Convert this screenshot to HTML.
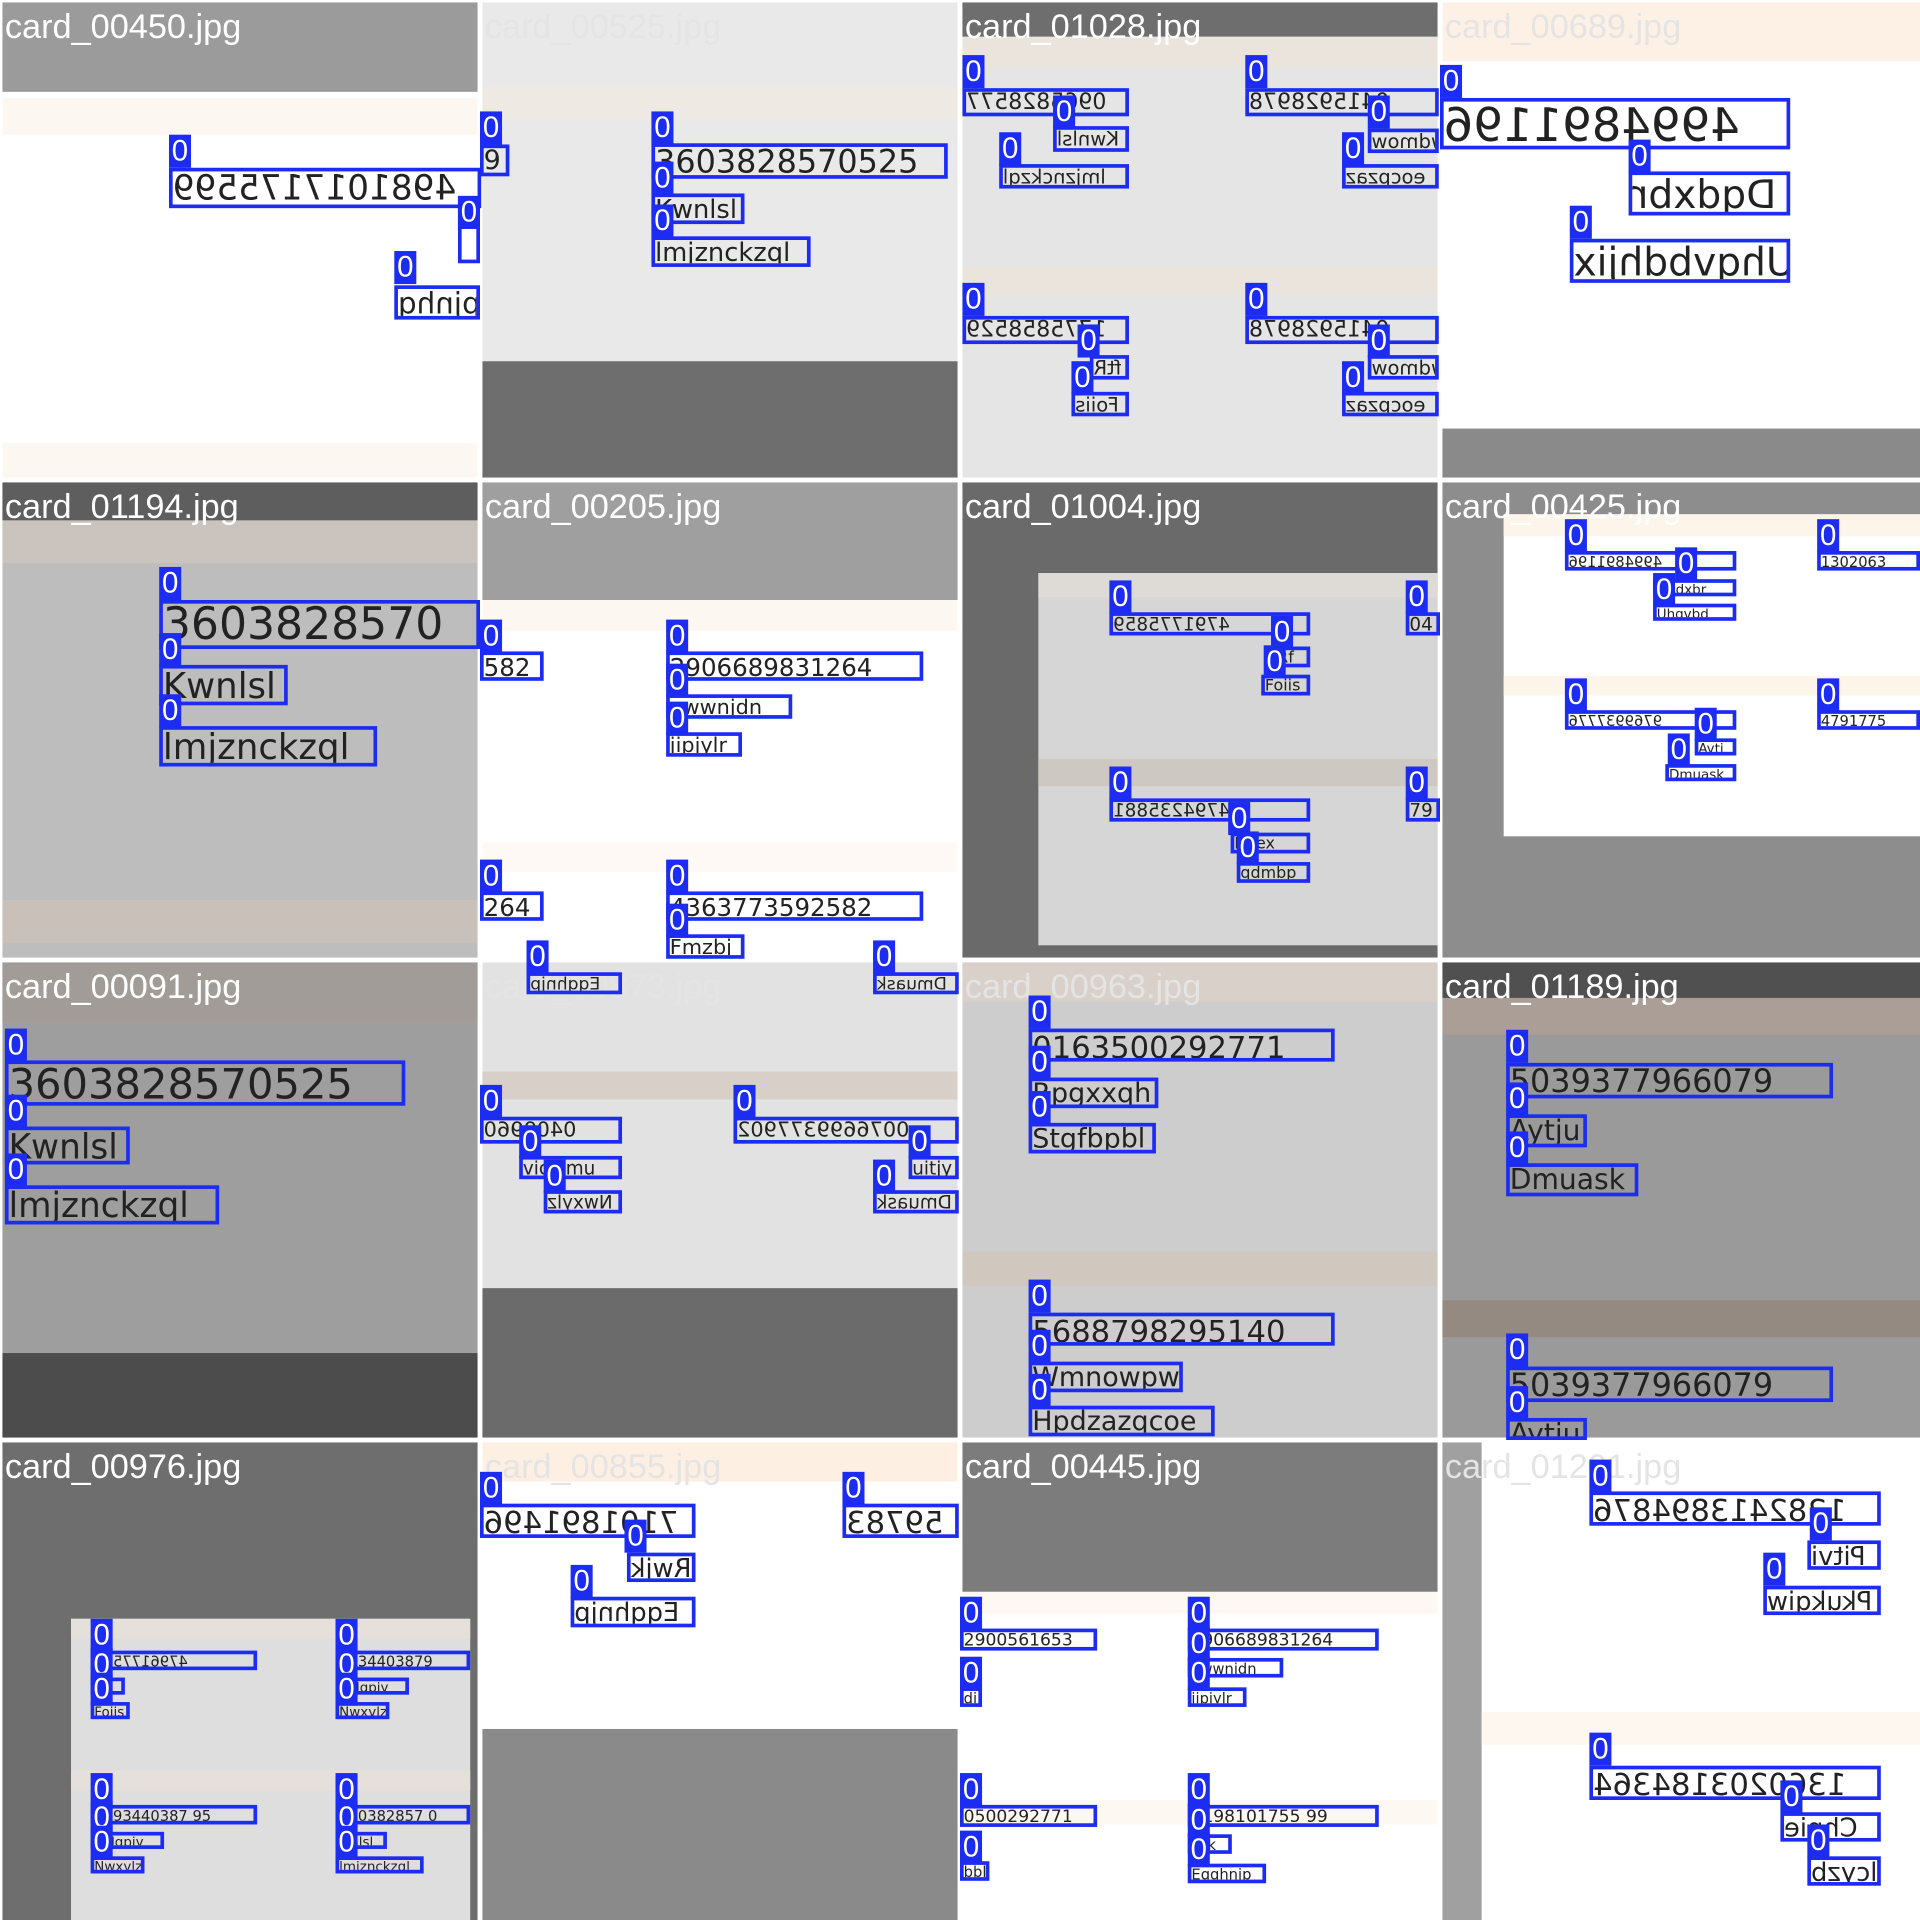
<!DOCTYPE html>
<html><head><meta charset="utf-8"><style>
html,body{margin:0;padding:0;background:#fff;}
#w{position:absolute;left:0;top:0;width:1568px;height:1568px;transform:scale(1.22449);transform-origin:0 0;overflow:hidden;background:#fff;font-family:"Liberation Sans",sans-serif;}
.r{position:absolute;}
.ti{position:absolute;color:#fff;font-size:28px;line-height:32px;white-space:nowrap;}
.tl{color:#e4e4e4;}
.b{position:absolute;border:3px solid #1c2cf2;box-sizing:border-box;color:#222;white-space:nowrap;overflow:hidden;line-height:1;font-family:"DejaVu Sans",sans-serif;}
.l{position:absolute;width:18px;height:27px;background:#1c2cf2;color:#fff;font-size:24px;line-height:27px;text-align:center;}
.m{display:inline-block;transform:scaleX(-1);}
</style></head><body><div id="w">
<!-- Tile 1 -->
<div class="r" style="left:2px;top:2px;width:388px;height:388px;background:#fff"></div>
<div class="r" style="left:2px;top:2px;width:388px;height:73px;background:#9b9b9b"></div>
<div class="r" style="left:2px;top:80px;width:388px;height:30px;background:#fdf7f1"></div>
<div class="r" style="left:2px;top:362px;width:388px;height:28px;background:#fdf7f1"></div>
<div class="ti" style="left:4px;top:6px">card_00450.jpg</div>
<div class="b" style="left:138px;top:137px;width:255px;height:33px;font-size:28px"><span class="m">4981017175599</span></div><div class="l" style="left:138px;top:110px">0</div>
<div class="b" style="left:374px;top:160px;width:18px;height:55px;font-size:24px">k</div><div class="l" style="left:374px;top:160px">0</div>
<div class="b" style="left:322px;top:233px;width:70px;height:28px;font-size:24px"><span class="m">pjnhq</span></div><div class="l" style="left:322px;top:205px">0</div>
<!-- Tile 2 -->
<div class="r" style="left:394px;top:2px;width:388px;height:293px;background:#e9e9e9"></div>
<div class="r" style="left:394px;top:70px;width:388px;height:28px;background:#efe9e4"></div>
<div class="r" style="left:394px;top:295px;width:388px;height:95px;background:#6e6e6e"></div>
<div class="ti tl" style="left:396px;top:6px">card_00525.jpg</div>
<div class="b" style="left:392px;top:118px;width:24px;height:26px;font-size:22px">9</div><div class="l" style="left:392px;top:91px">0</div>
<div class="b" style="left:532px;top:117px;width:242px;height:29px;font-size:26px">3603828570525</div><div class="l" style="left:532px;top:91px">0</div>
<div class="b" style="left:532px;top:158px;width:76px;height:25px;font-size:21px">Kwnlsl</div><div class="l" style="left:532px;top:132px">0</div>
<div class="b" style="left:532px;top:193px;width:130px;height:25px;font-size:21px">lmjznckzql</div><div class="l" style="left:532px;top:167px">0</div>
<!-- Tile 3 -->
<div class="r" style="left:786px;top:2px;width:388px;height:388px;background:#e5e5e5"></div>
<div class="r" style="left:786px;top:2px;width:388px;height:28px;background:#6e6e6e"></div>
<div class="r" style="left:786px;top:30px;width:388px;height:25px;background:#ebe4dc"></div>
<div class="r" style="left:786px;top:218px;width:388px;height:22px;background:#ebe4dc"></div>
<div class="ti" style="left:788px;top:6px">card_01028.jpg</div>
<div class="b" style="left:786px;top:72px;width:136px;height:23px;font-size:18px"><span class="m">0965828577</span></div><div class="l" style="left:786px;top:45px">0</div>
<div class="b" style="left:860px;top:103px;width:62px;height:21px;font-size:16px"><span class="m">Kwnlsl</span></div><div class="l" style="left:860px;top:78px">0</div>
<div class="b" style="left:816px;top:134px;width:106px;height:20px;font-size:16px"><span class="m">lmjznckzql</span></div><div class="l" style="left:816px;top:108px">0</div>
<div class="b" style="left:1017px;top:72px;width:158px;height:23px;font-size:18px"><span class="m">0415928978</span></div><div class="l" style="left:1017px;top:45px">0</div>
<div class="b" style="left:1117px;top:105px;width:58px;height:20px;font-size:16px"><span class="m">wdmow</span></div><div class="l" style="left:1117px;top:78px">0</div>
<div class="b" style="left:1096px;top:134px;width:79px;height:20px;font-size:16px"><span class="m">eocpzaz</span></div><div class="l" style="left:1096px;top:108px">0</div>
<div class="b" style="left:786px;top:258px;width:136px;height:23px;font-size:18px"><span class="m">1775858529</span></div><div class="l" style="left:786px;top:231px">0</div>
<div class="b" style="left:890px;top:290px;width:32px;height:20px;font-size:16px"><span class="m">ftR</span></div><div class="l" style="left:880px;top:265px">0</div>
<div class="b" style="left:875px;top:320px;width:47px;height:20px;font-size:16px"><span class="m">Foiis</span></div><div class="l" style="left:875px;top:295px">0</div>
<div class="b" style="left:1017px;top:258px;width:158px;height:23px;font-size:18px"><span class="m">0415928978</span></div><div class="l" style="left:1017px;top:231px">0</div>
<div class="b" style="left:1117px;top:290px;width:58px;height:20px;font-size:16px"><span class="m">wdmow</span></div><div class="l" style="left:1117px;top:265px">0</div>
<div class="b" style="left:1096px;top:320px;width:79px;height:20px;font-size:16px"><span class="m">eocpzaz</span></div><div class="l" style="left:1096px;top:295px">0</div>
<!-- Tile 4 -->
<div class="r" style="left:1178px;top:2px;width:390px;height:388px;background:#fff"></div>
<div class="r" style="left:1178px;top:2px;width:390px;height:48px;background:#fdf1e6"></div>
<div class="r" style="left:1178px;top:350px;width:390px;height:40px;background:#8a8a8a"></div>
<div class="ti tl" style="left:1180px;top:6px">card_00689.jpg</div>
<div class="b" style="left:1176px;top:80px;width:286px;height:42px;font-size:38px"><span class="m">4994891196</span></div><div class="l" style="left:1176px;top:53px">0</div>
<div class="b" style="left:1330px;top:140px;width:132px;height:36px;font-size:32px"><span class="m">Dqdxbr</span></div><div class="l" style="left:1330px;top:114px">0</div>
<div class="b" style="left:1282px;top:195px;width:180px;height:36px;font-size:32px"><span class="m">Uhqvbdhjix</span></div><div class="l" style="left:1282px;top:168px">0</div>
<!-- Tile 5 -->
<div class="r" style="left:2px;top:394px;width:388px;height:388px;background:#bdbdbd"></div>
<div class="r" style="left:2px;top:394px;width:388px;height:31px;background:#5e5e5e"></div>
<div class="r" style="left:2px;top:425px;width:388px;height:35px;background:#cbc4be"></div>
<div class="r" style="left:2px;top:735px;width:388px;height:35px;background:#c9c0b9"></div>
<div class="ti" style="left:4px;top:398px">card_01194.jpg</div>
<div class="b" style="left:130px;top:490px;width:262px;height:40px;font-size:36px">3603828570</div><div class="l" style="left:130px;top:463px">0</div>
<div class="b" style="left:130px;top:543px;width:105px;height:33px;font-size:29px">Kwnlsl</div><div class="l" style="left:130px;top:517px">0</div>
<div class="b" style="left:130px;top:593px;width:178px;height:33px;font-size:29px">lmjznckzql</div><div class="l" style="left:130px;top:567px">0</div>
<!-- Tile 6 -->
<div class="r" style="left:394px;top:394px;width:388px;height:388px;background:#fff"></div>
<div class="r" style="left:394px;top:394px;width:388px;height:96px;background:#9f9f9f"></div>
<div class="r" style="left:394px;top:490px;width:388px;height:25px;background:#fdf7f1"></div>
<div class="r" style="left:394px;top:688px;width:388px;height:24px;background:#fef9f4"></div>
<div class="ti" style="left:396px;top:398px">card_00205.jpg</div>
<div class="b" style="left:392px;top:532px;width:52px;height:24px;font-size:20px">582</div><div class="l" style="left:392px;top:506px">0</div>
<div class="b" style="left:544px;top:532px;width:210px;height:24px;font-size:20px">2906689831264</div><div class="l" style="left:544px;top:506px">0</div>
<div class="b" style="left:544px;top:567px;width:103px;height:20px;font-size:17px">ewwnjdn</div><div class="l" style="left:544px;top:542px">0</div>
<div class="b" style="left:544px;top:598px;width:62px;height:20px;font-size:17px">jipjylr</div><div class="l" style="left:544px;top:573px">0</div>
<div class="b" style="left:392px;top:728px;width:52px;height:24px;font-size:20px">264</div><div class="l" style="left:392px;top:702px">0</div>
<div class="b" style="left:544px;top:728px;width:210px;height:24px;font-size:20px">4363773592582</div><div class="l" style="left:544px;top:702px">0</div>
<div class="b" style="left:544px;top:763px;width:64px;height:20px;font-size:17px">Fmzbj</div><div class="l" style="left:544px;top:738px">0</div>
<!-- Tile 7 -->
<div class="r" style="left:786px;top:394px;width:388px;height:388px;background:#6a6a6a"></div>
<div class="r" style="left:848px;top:468px;width:326px;height:304px;background:#d6d6d6"></div>
<div class="r" style="left:848px;top:468px;width:326px;height:20px;background:#dedad6"></div>
<div class="r" style="left:848px;top:620px;width:326px;height:22px;background:#cec8c2"></div>
<div class="ti" style="left:788px;top:398px">card_01004.jpg</div>
<div class="b" style="left:906px;top:500px;width:164px;height:19px;font-size:15px"><span class="m">4791775859</span></div><div class="l" style="left:906px;top:474px">0</div>
<div class="b" style="left:1040px;top:528px;width:30px;height:17px;font-size:13px">Rf</div><div class="l" style="left:1038px;top:503px">0</div>
<div class="b" style="left:1030px;top:551px;width:40px;height:17px;font-size:13px">Foiis</div><div class="l" style="left:1032px;top:527px">0</div>
<div class="b" style="left:1148px;top:500px;width:28px;height:19px;font-size:15px">04</div><div class="l" style="left:1148px;top:474px">0</div>
<div class="b" style="left:906px;top:652px;width:164px;height:19px;font-size:15px"><span class="m">4794235881</span></div><div class="l" style="left:906px;top:626px">0</div>
<div class="b" style="left:1005px;top:680px;width:65px;height:17px;font-size:13px">Haex</div><div class="l" style="left:1003px;top:655px">0</div>
<div class="b" style="left:1010px;top:704px;width:60px;height:17px;font-size:13px">qdmbp</div><div class="l" style="left:1010px;top:679px">0</div>
<div class="b" style="left:1148px;top:652px;width:28px;height:19px;font-size:15px">79</div><div class="l" style="left:1148px;top:626px">0</div>
<!-- Tile 8 -->
<div class="r" style="left:1178px;top:394px;width:390px;height:388px;background:#8d8d8d"></div>
<div class="r" style="left:1228px;top:420px;width:340px;height:263px;background:#fff"></div>
<div class="r" style="left:1228px;top:420px;width:340px;height:18px;background:#fdf4ea"></div>
<div class="r" style="left:1228px;top:552px;width:340px;height:16px;background:#fdf4ea"></div>
<div class="ti" style="left:1180px;top:398px">card_00425.jpg</div>
<div class="b" style="left:1278px;top:450px;width:140px;height:16px;font-size:12px"><span class="m">4994891196</span></div><div class="l" style="left:1278px;top:424px">0</div>
<div class="b" style="left:1350px;top:473px;width:68px;height:14px;font-size:11px">Dqdxbr</div><div class="l" style="left:1368px;top:447px">0</div>
<div class="b" style="left:1350px;top:493px;width:68px;height:14px;font-size:11px">Uhqvbd</div><div class="l" style="left:1350px;top:468px">0</div>
<div class="b" style="left:1484px;top:450px;width:84px;height:16px;font-size:12px">1302063</div><div class="l" style="left:1484px;top:424px">0</div>
<div class="b" style="left:1278px;top:580px;width:140px;height:16px;font-size:12px"><span class="m">9769937776</span></div><div class="l" style="left:1278px;top:554px">0</div>
<div class="b" style="left:1384px;top:603px;width:34px;height:14px;font-size:11px">Aytj</div><div class="l" style="left:1384px;top:578px">0</div>
<div class="b" style="left:1360px;top:624px;width:58px;height:14px;font-size:11px">Dmuask</div><div class="l" style="left:1362px;top:599px">0</div>
<div class="b" style="left:1484px;top:580px;width:84px;height:16px;font-size:12px">4791775</div><div class="l" style="left:1484px;top:554px">0</div>
<!-- Tile 9 -->
<div class="r" style="left:2px;top:786px;width:388px;height:388px;background:#9e9e9e"></div>
<div class="r" style="left:2px;top:786px;width:388px;height:49px;background:#a19c98"></div>
<div class="r" style="left:2px;top:1105px;width:388px;height:69px;background:#4c4c4c"></div>
<div class="ti" style="left:4px;top:790px">card_00091.jpg</div>
<div class="b" style="left:4px;top:866px;width:327px;height:37px;font-size:34px">3603828570525</div><div class="l" style="left:4px;top:840px">0</div>
<div class="b" style="left:4px;top:920px;width:102px;height:31px;font-size:28px">Kwnlsl</div><div class="l" style="left:4px;top:894px">0</div>
<div class="b" style="left:4px;top:968px;width:175px;height:32px;font-size:28px">lmjznckzql</div><div class="l" style="left:4px;top:942px">0</div>
<!-- Tile 10 -->
<div class="r" style="left:394px;top:786px;width:388px;height:388px;background:#e2e2e2"></div>
<div class="r" style="left:394px;top:875px;width:388px;height:23px;background:#d8d0c8"></div>
<div class="r" style="left:394px;top:1052px;width:388px;height:122px;background:#6b6b6b"></div>
<div class="ti tl" style="left:396px;top:790px">card_00873.jpg</div>
<div class="b" style="left:430px;top:794px;width:78px;height:18px;font-size:14px"><span class="m">Eqqhnjp</span></div><div class="l" style="left:430px;top:768px">0</div>
<div class="b" style="left:713px;top:794px;width:70px;height:18px;font-size:14px"><span class="m">Dmuask</span></div><div class="l" style="left:713px;top:768px">0</div>
<div class="b" style="left:392px;top:912px;width:116px;height:22px;font-size:17px"><span class="m">0409960</span></div><div class="l" style="left:392px;top:886px">0</div>
<div class="b" style="left:424px;top:944px;width:84px;height:19px;font-size:15px">vicldmu</div><div class="l" style="left:424px;top:919px">0</div>
<div class="b" style="left:444px;top:972px;width:64px;height:19px;font-size:15px"><span class="m">Nwxylz</span></div><div class="l" style="left:444px;top:947px">0</div>
<div class="b" style="left:599px;top:912px;width:184px;height:22px;font-size:17px"><span class="m">0076699377902</span></div><div class="l" style="left:599px;top:886px">0</div>
<div class="b" style="left:742px;top:944px;width:41px;height:19px;font-size:15px">uitjy</div><div class="l" style="left:742px;top:919px">0</div>
<div class="b" style="left:713px;top:972px;width:70px;height:19px;font-size:15px"><span class="m">Dmuask</span></div><div class="l" style="left:713px;top:947px">0</div>
<!-- Tile 11 -->
<div class="r" style="left:786px;top:786px;width:388px;height:388px;background:#cdcdcd"></div>
<div class="r" style="left:786px;top:786px;width:388px;height:32px;background:#d8d0c9"></div>
<div class="r" style="left:786px;top:1022px;width:388px;height:28px;background:#d0c7bf"></div>
<div class="ti tl" style="left:788px;top:790px">card_00963.jpg</div>
<div class="b" style="left:840px;top:840px;width:250px;height:27px;font-size:25px">0163500292771</div><div class="l" style="left:840px;top:813px">0</div>
<div class="b" style="left:840px;top:880px;width:106px;height:25px;font-size:22px">Rpgxxqh</div><div class="l" style="left:840px;top:854px">0</div>
<div class="b" style="left:840px;top:917px;width:104px;height:25px;font-size:22px">Stgfbpbl</div><div class="l" style="left:840px;top:891px">0</div>
<div class="b" style="left:840px;top:1072px;width:250px;height:27px;font-size:25px">5688798295140</div><div class="l" style="left:840px;top:1045px">0</div>
<div class="b" style="left:840px;top:1112px;width:126px;height:25px;font-size:22px">Wmnowpw</div><div class="l" style="left:840px;top:1086px">0</div>
<div class="b" style="left:840px;top:1148px;width:152px;height:25px;font-size:22px">Hpdzazqcoe</div><div class="l" style="left:840px;top:1122px">0</div>
<!-- Tile 12 -->
<div class="r" style="left:1178px;top:786px;width:390px;height:388px;background:#9a9a9a"></div>
<div class="r" style="left:1178px;top:786px;width:390px;height:29px;background:#505050"></div>
<div class="r" style="left:1178px;top:815px;width:390px;height:30px;background:#ab9e96"></div>
<div class="r" style="left:1178px;top:1062px;width:390px;height:30px;background:#958a82"></div>
<div class="ti" style="left:1180px;top:790px">card_01189.jpg</div>
<div class="b" style="left:1230px;top:868px;width:267px;height:29px;font-size:26px">5039377966079</div><div class="l" style="left:1230px;top:841px">0</div>
<div class="b" style="left:1230px;top:910px;width:66px;height:27px;font-size:23px">Aytju</div><div class="l" style="left:1230px;top:884px">0</div>
<div class="b" style="left:1230px;top:950px;width:108px;height:27px;font-size:23px">Dmuask</div><div class="l" style="left:1230px;top:924px">0</div>
<div class="b" style="left:1230px;top:1116px;width:267px;height:29px;font-size:26px">5039377966079</div><div class="l" style="left:1230px;top:1089px">0</div>
<div class="b" style="left:1230px;top:1158px;width:66px;height:18px;font-size:23px">Aytju</div><div class="l" style="left:1230px;top:1132px">0</div>
<!-- Tile 13 -->
<div class="r" style="left:2px;top:1178px;width:388px;height:390px;background:#6e6e6e"></div>
<div class="r" style="left:58px;top:1322px;width:326px;height:246px;background:#dedede"></div>
<div class="r" style="left:58px;top:1322px;width:326px;height:16px;background:#e6e0da"></div>
<div class="r" style="left:58px;top:1446px;width:326px;height:16px;background:#e6e0da"></div>
<div class="ti" style="left:4px;top:1182px">card_00976.jpg</div>
<div class="b" style="left:74px;top:1348px;width:136px;height:16px;font-size:12px"><span class="m">4796177585</span></div><div class="l" style="left:74px;top:1322px">0</div>
<div class="b" style="left:74px;top:1370px;width:28px;height:14px;font-size:11px">Rf</div><div class="l" style="left:74px;top:1346px">0</div>
<div class="b" style="left:74px;top:1390px;width:32px;height:14px;font-size:11px">Foiis</div><div class="l" style="left:74px;top:1366px">0</div>
<div class="b" style="left:274px;top:1348px;width:110px;height:16px;font-size:12px">0934403879</div><div class="l" style="left:274px;top:1322px">0</div>
<div class="b" style="left:274px;top:1370px;width:60px;height:14px;font-size:11px">ohlqpiy</div><div class="l" style="left:274px;top:1346px">0</div>
<div class="b" style="left:274px;top:1390px;width:44px;height:14px;font-size:11px">Nwxylz</div><div class="l" style="left:274px;top:1366px">0</div>
<div class="b" style="left:74px;top:1474px;width:136px;height:16px;font-size:12px">5093440387 95</div><div class="l" style="left:74px;top:1448px">0</div>
<div class="b" style="left:74px;top:1496px;width:60px;height:14px;font-size:11px">ohlqpiy</div><div class="l" style="left:74px;top:1471px">0</div>
<div class="b" style="left:74px;top:1516px;width:44px;height:14px;font-size:11px">Nwxylz</div><div class="l" style="left:74px;top:1491px">0</div>
<div class="b" style="left:274px;top:1474px;width:110px;height:16px;font-size:12px">360382857 0</div><div class="l" style="left:274px;top:1448px">0</div>
<div class="b" style="left:274px;top:1496px;width:42px;height:14px;font-size:11px">wnlsl</div><div class="l" style="left:274px;top:1471px">0</div>
<div class="b" style="left:274px;top:1516px;width:72px;height:14px;font-size:11px">lmjznckzql</div><div class="l" style="left:274px;top:1491px">0</div>
<!-- Tile 14 -->
<div class="r" style="left:394px;top:1178px;width:388px;height:390px;background:#fff"></div>
<div class="r" style="left:394px;top:1178px;width:388px;height:32px;background:#fdf0e2"></div>
<div class="r" style="left:394px;top:1412px;width:388px;height:156px;background:#8a8a8a"></div>
<div class="ti tl" style="left:396px;top:1182px">card_00855.jpg</div>
<div class="b" style="left:392px;top:1228px;width:176px;height:28px;font-size:25px"><span class="m">7101891496</span></div><div class="l" style="left:392px;top:1202px">0</div>
<div class="b" style="left:688px;top:1228px;width:95px;height:28px;font-size:25px"><span class="m">59783</span></div><div class="l" style="left:688px;top:1202px">0</div>
<div class="b" style="left:512px;top:1268px;width:56px;height:24px;font-size:21px"><span class="m">Rwjk</span></div><div class="l" style="left:510px;top:1241px">0</div>
<div class="b" style="left:466px;top:1304px;width:102px;height:25px;font-size:21px"><span class="m">Eqqhnjp</span></div><div class="l" style="left:466px;top:1278px">0</div>
<!-- Tile 15 -->
<div class="r" style="left:786px;top:1178px;width:388px;height:390px;background:#fff"></div>
<div class="r" style="left:786px;top:1178px;width:388px;height:122px;background:#7c7c7c"></div>
<div class="r" style="left:786px;top:1300px;width:388px;height:18px;background:#fef8f2"></div>
<div class="r" style="left:786px;top:1470px;width:388px;height:20px;background:#fef8f2"></div>
<div class="ti" style="left:788px;top:1182px">card_00445.jpg</div>
<div class="b" style="left:784px;top:1330px;width:112px;height:18px;font-size:14px">2900561653</div><div class="l" style="left:784px;top:1304px">0</div>
<div class="b" style="left:784px;top:1378px;width:18px;height:16px;font-size:12px">di</div><div class="l" style="left:784px;top:1353px">0</div>
<div class="b" style="left:970px;top:1330px;width:156px;height:18px;font-size:14px">2906689831264</div><div class="l" style="left:970px;top:1304px">0</div>
<div class="b" style="left:970px;top:1354px;width:78px;height:16px;font-size:12px">ewwnjdn</div><div class="l" style="left:970px;top:1329px">0</div>
<div class="b" style="left:970px;top:1378px;width:48px;height:16px;font-size:12px">jipjylr</div><div class="l" style="left:970px;top:1353px">0</div>
<div class="b" style="left:784px;top:1474px;width:112px;height:18px;font-size:14px">0500292771</div><div class="l" style="left:784px;top:1448px">0</div>
<div class="b" style="left:784px;top:1520px;width:24px;height:16px;font-size:12px">bbl</div><div class="l" style="left:784px;top:1495px">0</div>
<div class="b" style="left:970px;top:1474px;width:156px;height:18px;font-size:14px">0198101755 99</div><div class="l" style="left:970px;top:1448px">0</div>
<div class="b" style="left:970px;top:1498px;width:36px;height:16px;font-size:12px">wjk</div><div class="l" style="left:970px;top:1473px">0</div>
<div class="b" style="left:970px;top:1522px;width:64px;height:16px;font-size:12px">Eqqhnjp</div><div class="l" style="left:970px;top:1497px">0</div>
<!-- Tile 16 -->
<div class="r" style="left:1178px;top:1178px;width:390px;height:390px;background:#fff"></div>
<div class="r" style="left:1178px;top:1178px;width:32px;height:390px;background:#a0a0a0"></div>
<div class="r" style="left:1210px;top:1398px;width:358px;height:27px;background:#fef7f0"></div>
<div class="ti tl" style="left:1180px;top:1182px">card_01201.jpg</div>
<div class="b" style="left:1298px;top:1218px;width:238px;height:28px;font-size:25px"><span class="m">1282413894876</span></div><div class="l" style="left:1298px;top:1192px">0</div>
<div class="b" style="left:1476px;top:1258px;width:60px;height:24px;font-size:21px"><span class="m">Pitvi</span></div><div class="l" style="left:1478px;top:1231px">0</div>
<div class="b" style="left:1440px;top:1295px;width:96px;height:24px;font-size:21px"><span class="m">Pkukqiw</span></div><div class="l" style="left:1440px;top:1268px">0</div>
<div class="b" style="left:1298px;top:1442px;width:238px;height:28px;font-size:25px"><span class="m">1360203184364</span></div><div class="l" style="left:1298px;top:1415px">0</div>
<div class="b" style="left:1454px;top:1480px;width:82px;height:24px;font-size:21px"><span class="m">Chnie</span></div><div class="l" style="left:1454px;top:1454px">0</div>
<div class="b" style="left:1476px;top:1516px;width:60px;height:24px;font-size:21px"><span class="m">lcyzb</span></div><div class="l" style="left:1476px;top:1490px">0</div>
</div></body></html>
